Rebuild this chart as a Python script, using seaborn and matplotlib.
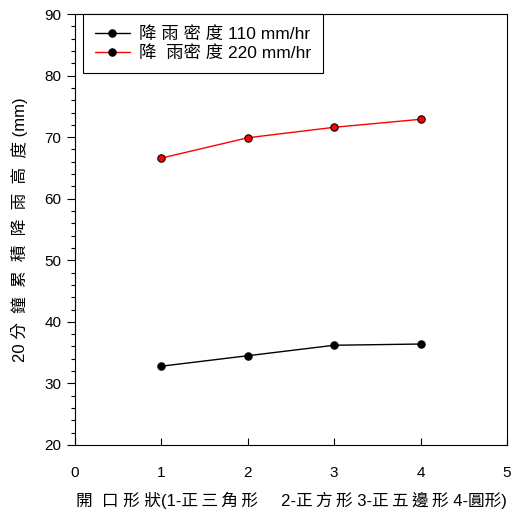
import matplotlib
matplotlib.use("Agg")
import matplotlib.pyplot as plt
import seaborn as sns
import pandas as pd
from matplotlib.ticker import MultipleLocator

shapes = [1, 2, 3, 4]
rain_110 = [32.8, 34.5, 36.2, 36.4]
rain_220 = [66.6, 69.9, 71.6, 72.9]
T = "\u2009"
labels = ["降 雨 密 度 110 mm/hr", "降  雨密 度 220 mm/hr"]
xlabel = f"開  口 形 狀(1-正{T}三{T}角{T}形     2-正{T}方{T}形 3-正{T}五{T}邊{T}形 4-圓形)"
ylabel = "20 分  鐘  累  積  降  雨  高  度 (mm)"

df = pd.DataFrame({
    "shape": shapes * 2,
    "height": rain_110 + rain_220,
    "series": [labels[0]] * 4 + [labels[1]] * 4,
})

sns.set_style("ticks")
plt.rcParams['font.family'] = ['Liberation Sans', 'Noto Sans CJK TC', 'DejaVu Sans']
plt.rcParams.update({"text.color": "black", "axes.labelcolor": "black",
                     "xtick.color": "black", "ytick.color": "black"})

fig = plt.figure(figsize=(5.15, 5.14), dpi=100)
ax = fig.add_axes([75 / 515, 1 - 445 / 514, 432 / 515, 431 / 514])

sns.lineplot(data=df, x="shape", y="height", hue="series",
             palette={labels[0]: "black", labels[1]: "red"},
             marker="o", markersize=5.3, markeredgecolor="black",
             markeredgewidth=0.8, linewidth=1.0, ax=ax)

for line, fc in zip(ax.get_lines()[:2], ["black", "red"]):
    line.set_markerfacecolor(fc)

ax.set_xlim(0, 5)
ax.set_ylim(20, 90)
ax.xaxis.set_major_locator(MultipleLocator(1))
ax.yaxis.set_major_locator(MultipleLocator(10))
ax.yaxis.set_minor_locator(MultipleLocator(2))
ax.tick_params(axis='x', direction='in', length=5, labelsize=11, pad=15, width=0.8,
               colors="black")
ax.tick_params(axis='y', which='major', direction='out', length=5.8, labelsize=11,
               width=0.8, pad=4, colors="black")
ax.tick_params(axis='y', which='minor', direction='out', length=3, width=0.8, colors="black")
for s in ax.spines.values():
    s.set_visible(True)
    s.set_linewidth(0.8)
    s.set_color("black")

ax.set_xlabel(xlabel, fontsize=12, labelpad=9, color="black")
ax.set_ylabel(ylabel, fontsize=12, labelpad=12, color="black")

leg = ax.legend(loc="upper left", bbox_to_anchor=(8 / 432, 1.0), borderaxespad=0,
                fontsize=12.5, frameon=True, fancybox=False, edgecolor="black",
                handlelength=2.0, handletextpad=0.57, borderpad=0.68,
                labelspacing=0.22, title=None)
leg.get_frame().set_linewidth(0.8)
leg.get_frame().set_alpha(1)
for h in leg.legend_handles:
    h.set_markerfacecolor("black")
    h.set_markeredgecolor("black")
for t in leg.get_texts():
    t.set_color("black")

fig.savefig("out.png", dpi=100)
